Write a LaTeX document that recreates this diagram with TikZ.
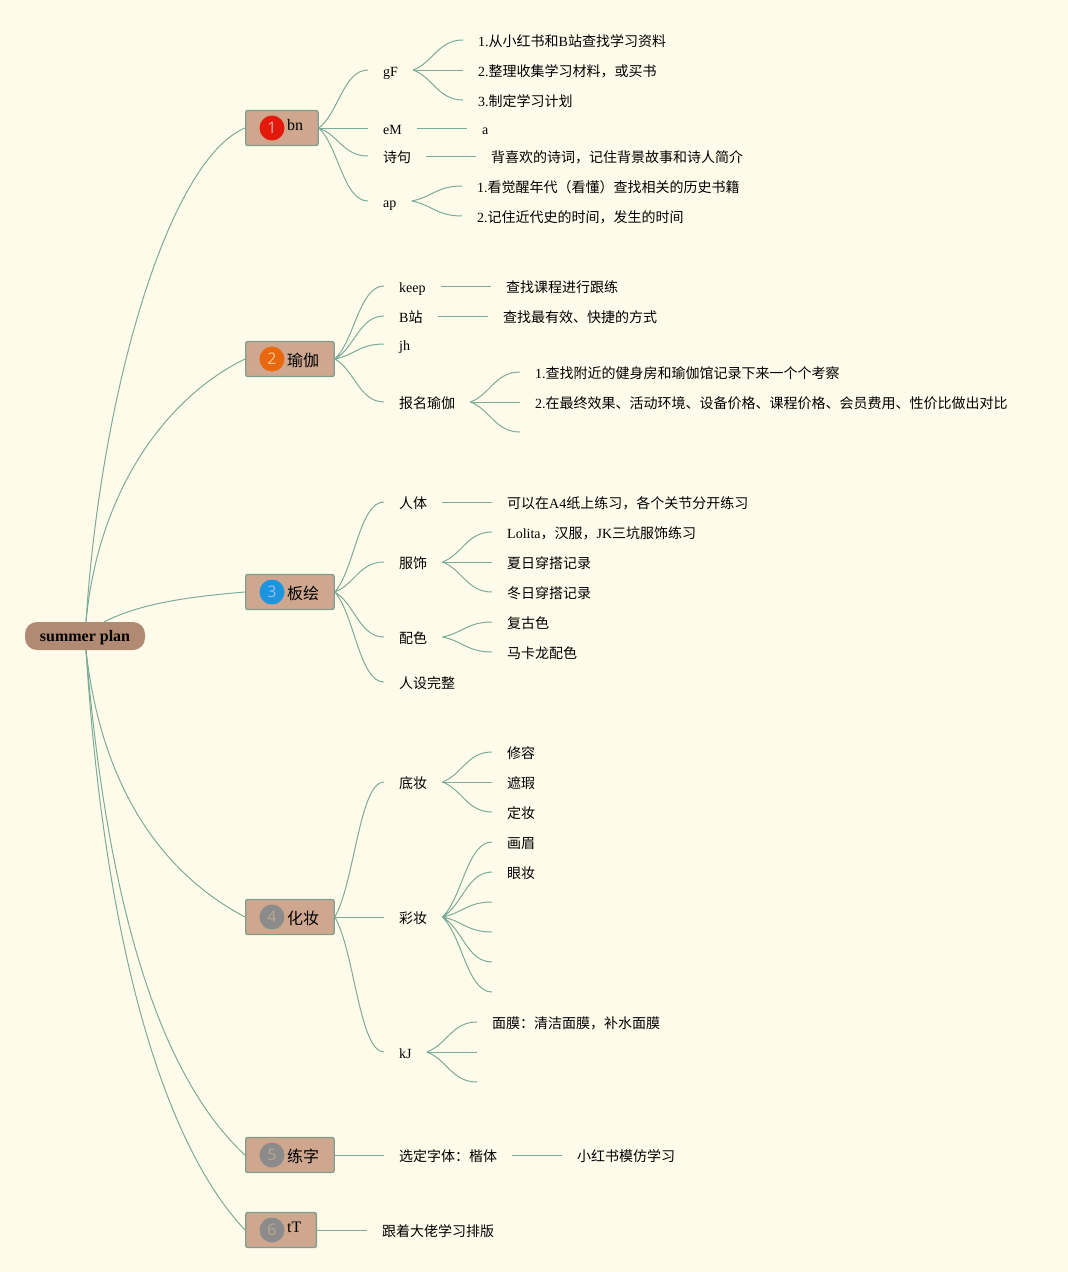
\documentclass[tikz,border=0pt]{standalone}
\usepackage{fontspec}
\usetikzlibrary{calc}
\setmainfont{Liberation Serif}
\newfontfamily\cjk{Noto Sans CJK SC}
\newfontfamily\digitfont{Open Sans}
\newcommand{\zh}[1]{{\cjk #1}}
\definecolor{paper}{HTML}{FFFBEA}
\definecolor{linkgreen}{HTML}{7BAC9A}
\definecolor{edgegreen}{HTML}{7D9F8C}
\definecolor{rootbrown}{HTML}{B08A72}
\definecolor{topicfill}{HTML}{CFA78F}
\definecolor{badgered}{HTML}{E3190B}
\definecolor{badgeorange}{HTML}{E8680F}
\definecolor{badgeblue}{HTML}{1B95E0}
\definecolor{badgegrey}{HTML}{8B8B8B}
\definecolor{digitgrey}{HTML}{BBA892}
\tikzset{
    link/.style={linkgreen, line width=1pt},
    curvy/.style={to path={let \p1=(\tikztostart), \p2=(\tikztotarget), \n1={\x2-\x1}, \n2={\y2-\y1} in
        .. controls (\x1+0.4*\n1,\y1+0.25*\n2) and (\x2-0.5*\n1,\y2) .. (\tikztotarget)}},
    rootbox/.style={fill=rootbrown, rounded corners=12pt, minimum width=120pt, minimum height=28pt, inner sep=0pt, text height=11pt, text depth=0pt, font=\fontsize{16}{18}\bfseries\selectfont},
    topicbox/.style={draw=edgegreen, fill=topicfill, line width=1.3pt, rounded corners=2pt, anchor=west, minimum height=35pt, inner ysep=0pt, inner xsep=15pt, text height=14pt, text depth=0pt, font=\fontsize{16}{18}\selectfont, execute at begin node=\hspace{26.5pt}},
    badge/.style={circle, minimum size=25pt, inner sep=0pt, font=\fontsize{16}{16}\digitfont},
    item/.style={anchor=west, inner xsep=15pt, inner ysep=0pt, text height=12pt, text depth=0pt, font=\fontsize{14}{16}\selectfont},
}
\begin{document}
\begin{tikzpicture}[x=1pt, y=-1pt]
        \useasboundingbox[fill=paper] (0,0) rectangle (1068,1272);

        % Free ends of the root links
        \coordinate (rootup) at (86,622);
        \coordinate (rootup3) at (104,622);
        \coordinate (rootdown) at (86,650);

        % Root and topics
        \node[rootbox] (root) at (85,636) {summer plan};
        \node[topicbox] (t1) at (245,128) {\raisebox{5pt}{bn}};
        \node[topicbox] (t2) at (245,359) {\zh{瑜伽}};
        \node[topicbox] (t3) at (245,592) {\zh{板绘}};
        \node[topicbox] (t4) at (245,917) {\zh{化妆}};
        \node[topicbox] (t5) at (245,1155) {\zh{练字}};
        \node[topicbox] (t6) at (245,1230) {\raisebox{5pt}{tT}};

        % Number badges
        \node[badge, fill=badgered, text=red!35!white] (b1) at (272,128) {1};
        \node[badge, fill=badgeorange, text=orange!45!white] (b2) at (272,359) {2};
        \node[badge, fill=badgeblue, text=cyan!45!blue!35!white] (b3) at (272,592) {3};
        \node[badge, fill=badgegrey, text=digitgrey] (b4) at (272,917) {4};
        \node[badge, fill=badgegrey, text=digitgrey] (b5) at (272,1155) {5};
        \node[badge, fill=badgegrey, text=digitgrey] (b6) at (272,1230) {6};

        % Topic 1
        \node[item] (gF) at (368,70) {gF};
        \node[item] (eM) at (368,128) {eM};
        \node[item] (poem) at (368,156) {\zh{诗句}};
        \node[item] (ap) at (368,201) {ap};
        \node[item] (gF1) at (463,40) {1.\zh{从小红书和}B\zh{站查找学习资料}};
        \node[item] (gF2) at (463,70) {2.\zh{整理收集学习材料，或买书}};
        \node[item] (gF3) at (463,100) {3.\zh{制定学习计划}};
        \node[item] (eM1) at (467,128) {a};
        \node[item] (poem1) at (476,156) {\zh{背喜欢的诗词，记住背景故事和诗人简介}};
        \node[item] (ap1) at (462,186) {1.\zh{看觉醒年代（看懂）查找相关的历史书籍}};
        \node[item] (ap2) at (462,216) {2.\zh{记住近代史的时间，发生的时间}};

        % Topic 2
        \node[item] (keep) at (384,286) {keep};
        \node[item] (bili) at (384,316) {B\zh{站}};
        \node[item] (jh) at (384,344) {jh};
        \node[item] (sign) at (384,402) {\zh{报名瑜伽}};
        \node[item] (keep1) at (491,286) {\zh{查找课程进行跟练}};
        \node[item] (bili1) at (488,316) {\zh{查找最有效、快捷的方式}};
        \node[item] (sign1) at (520,372) {1.\zh{查找附近的健身房和瑜伽馆记录下来一个个考察}};
        \node[item] (sign2) at (520,402) {2.\zh{在最终效果、活动环境、设备价格、课程价格、会员费用、性价比做出对比}};
        \coordinate (sign3) at (520,432);

        % Topic 3
        \node[item] (body) at (384,502) {\zh{人体}};
        \node[item] (dress) at (384,562) {\zh{服饰}};
        \node[item] (tone) at (384,637) {\zh{配色}};
        \node[item] (whole) at (384,682) {\zh{人设完整}};
        \node[item] (body1) at (492,502) {\zh{可以在}A4\zh{纸上练习，各个关节分开练习}};
        \node[item] (dress1) at (492,532) {Lolita\zh{，汉服，}JK\zh{三坑服饰练习}};
        \node[item] (dress2) at (492,562) {\zh{夏日穿搭记录}};
        \node[item] (dress3) at (492,592) {\zh{冬日穿搭记录}};
        \node[item] (tone1) at (492,622) {\zh{复古色}};
        \node[item] (tone2) at (492,652) {\zh{马卡龙配色}};

        % Topic 4
        \node[item] (base) at (384,782) {\zh{底妆}};
        \node[item] (color) at (384,917) {\zh{彩妆}};
        \node[item] (kJ) at (384,1052) {kJ};
        \node[item] (base1) at (492,752) {\zh{修容}};
        \node[item] (base2) at (492,782) {\zh{遮瑕}};
        \node[item] (base3) at (492,812) {\zh{定妆}};
        \node[item] (color1) at (492,842) {\zh{画眉}};
        \node[item] (color2) at (492,872) {\zh{眼妆}};
        \coordinate (color3) at (492,902);
        \coordinate (color4) at (492,932);
        \coordinate (color5) at (492,962);
        \coordinate (color6) at (492,992);
        \node[item] (kJ1) at (477,1022) {\zh{面膜：清洁面膜，补水面膜}};
        \coordinate (kJ2) at (477,1052);
        \coordinate (kJ3) at (477,1082);

        % Topics 5 and 6
        \node[item] (font) at (384,1155) {\zh{选定字体：楷体}};
        \node[item] (font1) at (562,1155) {\zh{小红书模仿学习}};
        \node[item] (layout) at (367,1230) {\zh{跟着大佬学习排版}};

        % Root links
        \draw[link] (rootup) .. controls +(15,-232) and +(-76,32) .. (t1.west);
        \draw[link] (rootup) .. controls +(12,-130) and +(-80,39) .. (t2.west);
        \draw[link] (rootup3) .. controls +(35,-18) and +(-60,5) .. (t3.west);
        \draw[link] (rootdown) .. controls +(15,135) and +(-85,-45) .. (t4.west);
        \draw[link] (rootdown) .. controls +(25,300) and +(-70,-65) .. (t5.west);
        \draw[link] (rootdown) .. controls +(19,300) and +(-80,-85) .. (t6.west);

        % Branch links
        \draw[link, curvy] (t1.east) to (gF.west) (t1.east) to (poem.west) (t1.east) to (ap.west);
        \draw[link] (t1.east) -- (eM.west);
        \draw[link, curvy] (gF.east) to (gF1.west) (gF.east) to (gF3.west);
        \draw[link] (gF.east) -- (gF2.west);
        \draw[link] (eM.east) -- (eM1.west);
        \draw[link] (poem.east) -- (poem1.west);
        \draw[link, curvy] (ap.east) to (ap1.west) (ap.east) to (ap2.west);

        \draw[link, curvy] (t2.east) to (keep.west) (t2.east) to (bili.west) (t2.east) to (jh.west) (t2.east) to (sign.west);
        \draw[link] (keep.east) -- (keep1.west);
        \draw[link] (bili.east) -- (bili1.west);
        \draw[link, curvy] (sign.east) to (sign1.west) (sign.east) to (sign3);
        \draw[link] (sign.east) -- (sign2.west);

        \draw[link, curvy] (t3.east) to (body.west) (t3.east) to (dress.west) (t3.east) to (tone.west) (t3.east) to (whole.west);
        \draw[link] (body.east) -- (body1.west);
        \draw[link, curvy] (dress.east) to (dress1.west) (dress.east) to (dress3.west);
        \draw[link] (dress.east) -- (dress2.west);
        \draw[link, curvy] (tone.east) to (tone1.west) (tone.east) to (tone2.west);

        \draw[link, curvy] (t4.east) to (base.west) (t4.east) to (kJ.west);
        \draw[link] (t4.east) -- (color.west);
        \draw[link, curvy] (base.east) to (base1.west) (base.east) to (base3.west);
        \draw[link] (base.east) -- (base2.west);
        \draw[link, curvy] (color.east) to (color1.west) (color.east) to (color2.west) (color.east) to (color3) (color.east) to (color4) (color.east) to (color5) (color.east) to (color6);
        \draw[link, curvy] (kJ.east) to (kJ1.west) (kJ.east) to (kJ3);
        \draw[link] (kJ.east) -- (kJ2);

        \draw[link] (t5.east) -- (font.west);
        \draw[link] (font.east) -- (font1.west);
        \draw[link] (t6.east) -- (layout.west);
\end{tikzpicture}
\end{document}
